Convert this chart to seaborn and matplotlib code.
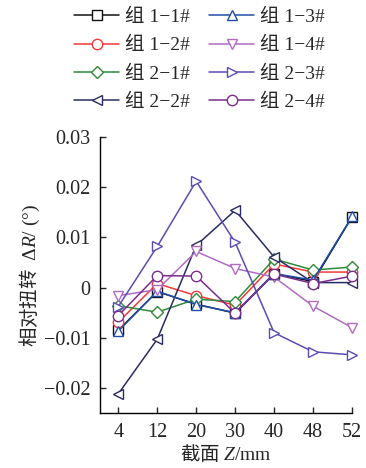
import numpy as np
import pandas as pd
import matplotlib
matplotlib.use('Agg')
import matplotlib.pyplot as plt
import seaborn as sns

sns.set_style('ticks')
plt.rcParams['font.family'] = ['Liberation Serif', 'Noto Sans CJK SC']
plt.rcParams['mathtext.fontset'] = 'custom'
plt.rcParams['mathtext.rm'] = 'Liberation Serif'
plt.rcParams['mathtext.it'] = 'Liberation Serif:italic'

sections = ['4', '12', '20', '30', '40', '48', '52']

g11 = [-0.0085, -0.0008, -0.0033, -0.0051, 0.0028, 0.0012, 0.0141]
g12 = [-0.0069, 0.0008, -0.0016, -0.0035, 0.0047, 0.0031, 0.0031]
g21 = [-0.0036, -0.0049, -0.0023, -0.0028, 0.0057, 0.0035, 0.0041]
g22 = [-0.0212, -0.0103, 0.0084, 0.0154, 0.0061, 0.0010, 0.0010]
g13 = [-0.0087, -0.0007, -0.0034, -0.0050, 0.0028, 0.0015, 0.0142]
g14 = [-0.0016, -0.0004, 0.0072, 0.0038, 0.0021, -0.0037, -0.0080]
g23 = [-0.0038, 0.0082, 0.0212, 0.0090, -0.0090, -0.0128, -0.0134]
g24 = [-0.0056, 0.0024, 0.0023, -0.0051, 0.0027, 0.0008, 0.0023]

series = [
    ('组 1−1#', g11, 's', '#111111'),
    ('组 1−2#', g12, 'o', '#f23a3a'),
    ('组 2−1#', g21, 'D', '#2f8a3c'),
    ('组 2−2#', g22, '<', '#2a2d62'),
    ('组 1−3#', g13, '^', '#1f4fa8'),
    ('组 1−4#', g14, 'v', '#b06cc2'),
    ('组 2−3#', g23, '>', '#5a4db4'),
    ('组 2−4#', g24, 'o', '#7a2d8c'),
]

fig = plt.figure(figsize=(3.66, 4.68), dpi=100)
ax = fig.add_axes([0.273, 0.1175, 0.689, 0.5895])

for name, vals, mk, col in series:
    df = pd.DataFrame({'x': sections, 'y': vals})
    msz = 6.5 if mk == 'D' else 7.5
    sns.lineplot(data=df, x='x', y='y', ax=ax, color=col, marker=mk,
                 markersize=msz, markerfacecolor='white', markeredgecolor=col,
                 markeredgewidth=1.0, linewidth=1.1, label=name, clip_on=False)

ax.set_xlim(-0.47, 6.0)
ax.set_ylim(-0.025, 0.03)
ax.set_yticks([-0.02, -0.01, 0, 0.01, 0.02, 0.03])
ax.set_yticklabels(['−0.02', '−0.01', '0', '0.01', '0.02', '0.03'])
ax.tick_params(direction='in', length=4, width=1, labelsize=14.5)
ax.tick_params(axis='y', pad=7)
ax.tick_params(axis='x', pad=7)
sns.despine(ax=ax)
for s in ['left', 'bottom']:
    ax.spines[s].set_linewidth(1.0)
    ax.spines[s].set_color('black')

ax.set_xlabel(r'截面 $Z\mathrm{/mm}$', fontsize=14, labelpad=1,
              family='Noto Sans CJK SC')
ax.set_ylabel(r'相对扭转  $\mathrm{\Delta}R\mathrm{/\ (°)}$', fontsize=14,
              labelpad=1, family='Noto Sans CJK SC')

handles, labels = ax.get_legend_handles_labels()
ax.get_legend().remove()
fig.legend(handles, labels, ncol=2, loc='upper center',
           bbox_to_anchor=(0.545, 0.99), frameon=False, fontsize=14,
           handlelength=2.3, handletextpad=0.3, columnspacing=1.0,
           labelspacing=0.55, borderaxespad=0.1, borderpad=0.1)

fig.savefig('out.png', dpi=100)
